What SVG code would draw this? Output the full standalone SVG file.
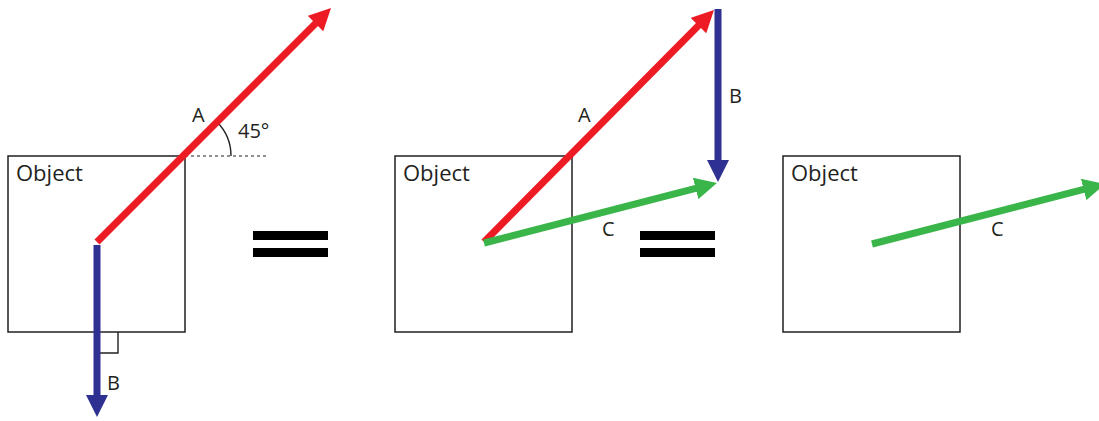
<svg xmlns="http://www.w3.org/2000/svg" width="1099" height="421" viewBox="0 0 1099 421">
<style>
.box{fill:none;stroke:#231F20;stroke-width:1.5}
.lbl{font-family:"Open Sans","Liberation Sans",sans-serif;font-size:20px;fill:#231F20}
.obj{font-family:"Open Sans","Liberation Sans",sans-serif;font-size:22px;fill:#231F20}
.red{stroke:#ED1C24;stroke-width:7;fill:none}
.blue{stroke:#2E3192;stroke-width:7;fill:none}
.green{stroke:#39B54A;stroke-width:7;fill:none}
.eq{fill:#000}
.thin{stroke:#231F20;stroke-width:1.4;fill:none}
</style>
<defs>
<marker id="hr" viewBox="0 0 22 22" refX="5" refY="11" markerWidth="22" markerHeight="22" markerUnits="userSpaceOnUse" orient="auto"><path d="M0,0 L22,11 L0,22 z" fill="#ED1C24"/></marker>
<marker id="hb" viewBox="0 0 22 22" refX="5" refY="11" markerWidth="22" markerHeight="22" markerUnits="userSpaceOnUse" orient="auto"><path d="M0,0 L22,11 L0,22 z" fill="#2E3192"/></marker>
<marker id="hg" viewBox="0 0 22 22" refX="5" refY="11" markerWidth="22" markerHeight="22" markerUnits="userSpaceOnUse" orient="auto"><path d="M0,0 L22,11 L0,22 z" fill="#39B54A"/></marker>
</defs>
<rect width="1099" height="421" fill="#fff"/>
<g id="object1">
<rect class="box" x="8" y="156" width="177" height="176"/>
<text class="obj" x="16" y="181">Object</text>
</g>
<g id="equals1">
<rect class="eq" x="253" y="231" width="75" height="9"/>
<rect class="eq" x="253" y="248" width="75" height="9"/>
</g>
<g id="object2">
<rect class="box" x="395" y="156" width="177" height="176"/>
<text class="obj" x="403" y="181">Object</text>
</g>
<g id="equals2">
<rect class="eq" x="640" y="231" width="75" height="9"/>
<rect class="eq" x="640" y="248" width="75" height="9"/>
</g>
<g id="object3">
<rect class="box" x="783" y="156" width="177" height="176"/>
<text class="obj" x="791" y="181">Object</text>
</g>
<g id="connectors">
<line x1="185" y1="156" x2="267" y2="156" stroke="#231F20" stroke-width="1.2" stroke-dasharray="3,3"/>
<path class="thin" d="M217,122 A48,48 0 0 1 231,156"/>
<path class="thin" d="M100,353 H118 V332"/>
<line class="red" x1="97" y1="242" x2="319" y2="20" marker-end="url(#hr)"/>
<line class="blue" x1="97" y1="245" x2="97" y2="400" marker-end="url(#hb)"/>
<text class="lbl" x="192" y="122">A</text>
<text class="lbl" x="238" y="138">45°</text>
<text class="lbl" x="107" y="390">B</text>
<line class="red" x1="484" y1="242" x2="702" y2="22" marker-end="url(#hr)"/>
<line class="blue" x1="718" y1="9" x2="718" y2="165" marker-end="url(#hb)"/>
<line class="green" x1="484" y1="243" x2="700.5" y2="187.2" marker-end="url(#hg)"/>
<text class="lbl" x="578" y="122">A</text>
<text class="lbl" x="729" y="103">B</text>
<text class="lbl" x="602" y="236">C</text>
<line class="green" x1="872" y1="244" x2="1088.5" y2="188.2" marker-end="url(#hg)"/>
<text class="lbl" x="991" y="236">C</text>
</g>
</svg>
